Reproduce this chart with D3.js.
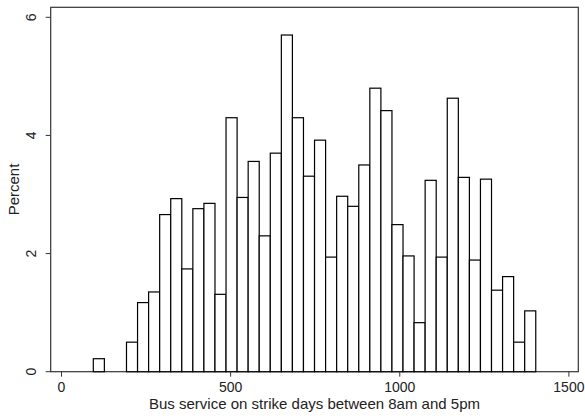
<!DOCTYPE html>
<html>
<head>
  <meta charset="UTF-8">
  <title>Bus service histogram</title>
  <script src="https://d3js.org/d3.v7.min.js"></script>
  <style>
    body { margin: 0; background: #fff; }
    svg { display: block; font-family: "Liberation Sans", Arial, sans-serif; }
    .axis text { font-size: 14px; fill: #222; }
    .axis path, .axis line { stroke: #333; }
    .bar { fill: #fff; stroke: #000; stroke-width: 1.2; }
  </style>
</head>
<body>
  <svg id="chart" width="585" height="418"></svg>

  <script>
    // histogram bins: start, width, percent per bin
    var binStart = 95.5;
    var binWidth = 32.7;
    var percent = [
      0.22, 0, 0, 0.50, 1.17, 1.35, 2.66, 2.93, 1.74, 2.76,
      2.85, 1.31, 4.30, 2.95, 3.56, 2.30, 3.70, 5.70, 4.30, 3.31,
      3.92, 1.94, 2.97, 2.80, 3.50, 4.80, 4.42, 2.49, 1.96, 0.83,
      3.24, 1.94, 4.63, 3.29, 1.89, 3.26, 1.38, 1.61, 0.50, 1.03
    ];
    var xTicks = [0, 500, 1000, 1500];
    var yTicks = [0, 2, 4, 6];

    var bins = percent.map(function(p, i) {
      return { x0: binStart + i * binWidth, x1: binStart + (i + 1) * binWidth, pct: p };
    });

    var frame = { left: 50.7, top: 7.3, right: 578.3, bottom: 371.7 };

    var x = d3.scaleLinear().domain([0, 1500]).range([61, 568.4]);
    var y = d3.scaleLinear().domain([0, 6]).range([frame.bottom, 17.3]);

    var svg = d3.select("#chart");

    // plot frame
    svg.append("rect")
       .attr("x", frame.left)
       .attr("y", frame.top)
       .attr("width", frame.right - frame.left)
       .attr("height", frame.bottom - frame.top)
       .attr("fill", "none")
       .attr("stroke", "#333")
       .attr("stroke-width", 1.2);

    // bars
    svg.selectAll("rect.bar")
       .data(bins.filter(function(d) { return d.pct > 0; }))
       .enter()
       .append("rect")
       .attr("class", "bar")
       .attr("x", function(d) { return x(d.x0); })
       .attr("y", function(d) { return y(d.pct); })
       .attr("width", function(d) { return x(d.x1) - x(d.x0); })
       .attr("height", function(d) { return y(0) - y(d.pct); });

    // x axis
    var xAxis = svg.append("g")
       .attr("class", "axis")
       .attr("transform", "translate(0," + frame.bottom + ")")
       .call(d3.axisBottom(x).tickValues(xTicks).tickSize(5).tickPadding(5).tickFormat(d3.format("d")));
    xAxis.select(".domain").remove();

    // y axis (labels rotated like Stata)
    var yAxis = svg.append("g")
       .attr("class", "axis")
       .attr("transform", "translate(" + frame.left + ",0)")
       .call(d3.axisLeft(y).tickValues(yTicks).tickSize(5).tickFormat(d3.format("d")));
    yAxis.select(".domain").remove();
    yAxis.selectAll(".tick").attr("transform", null);
    yAxis.selectAll(".tick line").attr("transform", function(d) { return "translate(0," + y(d) + ")"; });
    yAxis.selectAll("text")
       .attr("text-anchor", "middle")
       .attr("x", 0)
       .attr("y", 0)
       .attr("dy", 0)
       .attr("transform", function(d) { return "translate(-20," + y(d) + ") rotate(-90) translate(0,5)"; });

    // axis titles
    svg.append("text")
       .attr("x", (frame.left + frame.right) / 2)
       .attr("y", 409)
       .attr("text-anchor", "middle")
       .attr("font-size", 15)
       .attr("fill", "#222")
       .text("Bus service on strike days between 8am and 5pm");

    svg.append("text")
       .attr("transform", "translate(19," + (frame.top + frame.bottom) / 2 + ") rotate(-90)")
       .attr("text-anchor", "middle")
       .attr("font-size", 15)
       .attr("fill", "#222")
       .text("Percent");
  </script>
</body>
</html>
